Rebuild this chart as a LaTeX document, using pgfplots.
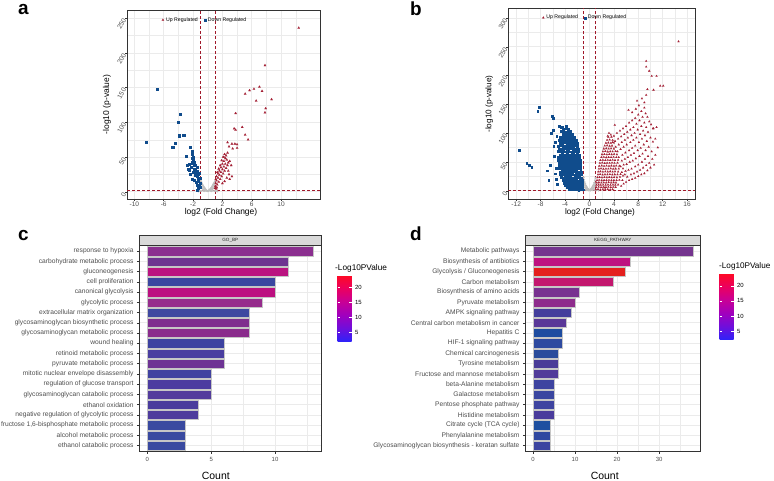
\documentclass[border=0pt]{standalone}
\usepackage{fontspec}
\setmainfont{Liberation Sans}
\usepackage{pgfplots}
\pgfplotsset{compat=1.18}
\definecolor{gridc}{HTML}{EBEBEB}
\definecolor{upred}{HTML}{A31F34}
\definecolor{dnblue}{HTML}{104C8C}
\definecolor{grayp}{HTML}{BEBEBE}
\definecolor{dashred}{HTML}{A0182A}
\definecolor{axc}{HTML}{333333}
\definecolor{tkc}{HTML}{4D4D4D}
% GO_BP bar colours, bottom (1) to top (20)
\definecolor{ca1}{HTML}{3A4AA0}\definecolor{ca2}{HTML}{3A4AA0}\definecolor{ca3}{HTML}{3A4AA0}
\definecolor{ca4}{HTML}{4E3C9C}\definecolor{ca5}{HTML}{4A3C9C}\definecolor{ca6}{HTML}{533C9C}
\definecolor{ca7}{HTML}{4C3CA0}\definecolor{ca8}{HTML}{4042A0}\definecolor{ca9}{HTML}{6E3494}
\definecolor{ca10}{HTML}{4A3EA0}\definecolor{ca11}{HTML}{3D42A0}\definecolor{ca12}{HTML}{8A2C8C}
\definecolor{ca13}{HTML}{7F2E8E}\definecolor{ca14}{HTML}{3E48A0}\definecolor{ca15}{HTML}{962C8C}
\definecolor{ca16}{HTML}{BC1080}\definecolor{ca17}{HTML}{3A46A0}\definecolor{ca18}{HTML}{BA1480}
\definecolor{ca19}{HTML}{6E3490}\definecolor{ca20}{HTML}{8B2F8F}
% KEGG bar colours, bottom (1) to top (20)
\definecolor{cb1}{HTML}{3C44A0}\definecolor{cb2}{HTML}{3048A0}\definecolor{cb3}{HTML}{1E50A0}
\definecolor{cb4}{HTML}{4A3C9C}\definecolor{cb5}{HTML}{3E44A0}\definecolor{cb6}{HTML}{3A46A0}
\definecolor{cb7}{HTML}{3E44A0}\definecolor{cb8}{HTML}{523C9A}\definecolor{cb9}{HTML}{4A3C98}
\definecolor{cb10}{HTML}{2A4C9C}\definecolor{cb11}{HTML}{2E4AA0}\definecolor{cb12}{HTML}{1E4CA0}
\definecolor{cb13}{HTML}{5A3898}\definecolor{cb14}{HTML}{443E9C}\definecolor{cb15}{HTML}{8E2C8C}
\definecolor{cb16}{HTML}{783290}\definecolor{cb17}{HTML}{C3176E}\definecolor{cb18}{HTML}{E4201E}
\definecolor{cb19}{HTML}{BE1280}\definecolor{cb20}{HTML}{74348E}
\pgfplotsset{
  colormap={gg}{rgb255=(45,35,250) rgb255=(110,15,220) rgb255=(160,0,190) rgb255=(200,0,150) rgb255=(235,0,95) rgb255=(255,10,35)},
  volc/.style={scale only axis, anchor=south west,
    grid=both,
    major grid style={draw=gridc, line width=0.6bp},
    minor grid style={draw=gridc, line width=0.3bp},
    axis line style={draw=axc, line width=0.6bp},
    tick align=outside, major tick length=2bp, minor tick length=0pt,
    tick style={draw=axc, line width=0.4bp},
    xtick pos=bottom, ytick pos=left,
    xticklabel style={font=\fontsize{6.6}{7}\selectfont, text=tkc, inner sep=0.8bp},
    yticklabel style={font=\fontsize{6.6}{7}\selectfont, text=tkc, rotate=60, anchor=east, inner sep=1bp},
    /pgf/number format/assume math mode=true,
    legend style={draw=none, fill=none, font=\fontsize{5.2}{6}\selectfont, legend columns=2, anchor=center, inner sep=0pt,
      /tikz/every even column/.append style={column sep=4bp}},
    legend cell align=left,
  },
  upst/.style={only marks, mark=triangle*, mark size=1.4bp, color=upred, mark options={fill=upred, draw=upred, line width=0.05bp}},
  dnst/.style={only marks, mark=square*, mark size=1.05bp, color=dnblue, mark options={fill=dnblue, draw=dnblue, line width=0.05bp}},
  upsb/.style={upst, mark size=1.2bp},
  dnsb/.style={dnst, mark size=0.9bp},
  grst/.style={only marks, mark=*, mark size=1.0bp, color=grayp, mark options={fill=grayp, draw=grayp, line width=0.1bp}},
  dashl/.style={dashred, line width=0.8bp, dash pattern=on 3bp off 2bp},
  barax/.style={scale only axis, anchor=south west,
    ymin=0.4, ymax=20.6, ytick={1,...,20},
    xmajorgrids, ymajorgrids, xminorgrids,
    major grid style={draw=gridc, line width=0.6bp},
    minor grid style={draw=gridc, line width=0.3bp},
    axis line style={draw=axc, line width=0.6bp},
    tick align=outside, major tick length=2bp, minor tick length=0pt,
    tick style={draw=axc, line width=0.4bp},
    xtick pos=bottom, ytick pos=left,
    yticklabel style={font=\fontsize{6.7}{7}\selectfont, text=tkc},
    xticklabel style={font=\fontsize{6}{7}\selectfont, text=tkc},
    /pgf/number format/assume math mode=true,
    colorbar, colormap name=gg, point meta min=2, point meta max=24.2,
  },
  cbst/.style={scale only axis, width=14bp, height=66.7bp,
    ytick={5,10,15,20}, yticklabels={5,10,15,20},
    ytick pos=both, yticklabel pos=right,
    tick align=inside, major tick length=2.8bp,
    tick style={draw=white, line width=0.5bp},
    axis line style={draw=none},
    yticklabel style={font=\fontsize{6}{7}\selectfont, text=black},
    /pgf/number format/assume math mode=true,
  },
  mybar/.style={xbar, bar width=0.9, bar shift=0pt, draw=gray!45, line width=0.3bp},
}
\begin{document}
\begin{tikzpicture}
\path[use as bounding box] (0,0) rectangle (774bp,481bp);

% ---------------- panel a ----------------
\begin{axis}[volc, at={(127bp,282bp)}, width=193bp, height=189bp,
  xmin=-11.0, xmax=15.3, ymin=-10.5, ymax=261.8,
  xtick={-10,-6,-2,2,6,10}, minor xtick={-8,-4,0,4,8,12},
  ytick={0,50,100,150,200,250}, minor ytick={25,75,125,175,225},
  legend style={at={(rel axis cs:0.404,0.947)}}]
\addplot[grst, forget plot] coordinates {(0,0.8)(0.08,1.2)(-0.08,1.1)(0.15,1.8)(-0.15,1.7)(0.22,2.4)(-0.22,2.6)(0.3,3.2)(-0.3,3.4)(0.38,4.1)(-0.38,4.4)(0.45,5.0)(-0.45,5.5)(0.52,6.1)(-0.52,6.7)(0.6,7.3)(-0.6,8.0)(0.68,8.6)(-0.68,9.4)(0.75,10)(-0.75,11)(0.82,11.5)(-0.82,12.5)(0.9,13)(-0.9,14.5)(0.97,15)(-0.97,16.5)(0.35,1.5)(-0.35,1.6)(0.55,2.8)(-0.55,3)(0.7,4.5)(-0.7,5)(0.85,6.5)(-0.85,7)(0.95,9)(-0.95,10)(0.65,2)(-0.65,2.2)(1.1,1.0)(-1.1,1.0)(1.3,0.6)(-1.3,0.5)(0.9,1.2)(-0.9,1.1)(0.5,0.9)(-0.5,0.8)};
\addplot[upst] coordinates {(12.4,236)(7.8,182)(5.1,141)(5.7,146)(6.3,148)(7.05,151)(7.4,145)(6.6,131)(8.7,133)(7.9,120)(7.8,114)(3.8,113)(3.6,91)(3.8,89)(4.7,93)(5.1,82)(5.5,75)(2.7,71)(3.3,69)(3.7,69)(4.0,68)(2.9,65)(3.4,62)(4.0,63)(2.3,54)(2.2,50)(1.05,8)(1.1,12)(1.2,16)(1.3,10)(1.4,20)(1.5,14)(1.6,24)(1.7,18)(1.8,28)(1.9,22)(2.0,32)(2.1,26)(2.2,36)(2.3,30)(2.4,40)(2.5,34)(2.2,44)(2.6,46)(2.4,48)(2.7,38)(2.8,42)(2.5,52)(1.6,30)(1.8,35)(2.0,40)(1.4,26)(1.2,22)(1.3,28)(1.5,33)(1.1,18)(2.6,20)(3.0,18)(2.9,25)(3.2,38)(3.0,44)(1.9,45)(2.1,50)(1.7,38)(1.0,5)(1.15,4)(1.25,6)(2.3,15)(2.0,12)(3.3,22)(2.8,30)(2.7,56)};
\addlegendentry{Up Regulated}
\addplot[dnst] coordinates {(-6.9,148)(-8.4,71)(-3.8,112)(-4.0,100)(-3.9,81)(-3.3,82)(-4.8,64)(-4.45,70)(-2.45,65)(-3.0,51)(-2.2,59)(-2.1,55)(-1.95,50)(-1.86,43)(-2.1,42)(-2.7,33)(-2.5,31)(-1.7,31)(-1.6,29)(-1.36,25)(-1.9,17)(-1.27,19)(-1.6,14)(-1.13,10)(-1.27,5)(-2.2,48)(-2.0,46)(-1.8,38)(-1.5,35)(-1.4,30)(-1.2,27)(-1.5,22)(-1.1,20)(-1.3,15)(-1.05,12)(-1.7,24)(-2.3,36)(-2.6,40)(-2.0,28)(-1.9,33)(-1.1,7)(-1.5,9)(-2.4,25)(-2.8,38)(-2.2,18)(-1.4,3)};
\addlegendentry{Down Regulated}
\addplot[dashl, forget plot] coordinates {(-1,-10.5)(-1,261.8)};
\addplot[dashl, forget plot] coordinates {(1,-10.5)(1,261.8)};
\addplot[dashl, forget plot] coordinates {(-11,1.3)(15.3,1.3)};
\end{axis}

% ---------------- panel b ----------------
\begin{axis}[volc, at={(508.3bp,281.7bp)}, width=186.7bp, height=191bp,
  xmin=-13.3, xmax=17.3, ymin=-14.9, ymax=316.7,
  xtick={-12,-8,-4,0,4,8,12,16}, minor xtick={-10,-6,-2,2,6,10,14},
  ytick={0,50,100,150,200,250,300}, minor ytick={25,75,125,175,225,275},
  legend style={at={(rel axis cs:0.412,0.951)}}]
\addplot[grst, forget plot] coordinates {(0,1)(0.1,1.6)(-0.1,1.5)(0.2,2.5)(-0.2,2.7)(0.3,3.6)(-0.3,3.9)(0.4,5)(-0.4,5.3)(0.5,6.5)(-0.5,7)(0.6,8.5)(-0.6,9)(0.7,11)(-0.7,12)(0.8,14)(-0.8,15)(0.9,18)(-0.9,19)(0.97,22)(-0.97,23)(0.35,1.5)(-0.35,1.6)(0.55,3)(-0.55,3.2)(0.75,5)(-0.75,5.5)(0.9,8)(-0.9,8.5)(0.95,12)(-0.95,13)(0.65,2)(-0.65,2.2)(1.2,1)(-1.2,1)(1.5,0.6)(-1.5,0.6)(0.85,1.5)(-0.85,1.5)(0.45,1)(-0.45,1)(0.2,0.5)(-0.2,0.5)(0.6,5)(-0.6,5.5)(0.8,9)(-0.8,10)(1.05,0.8)(-1.05,0.8)};
\addplot[upsb] coordinates {
(1.05,2)(1.4,2.5)(1.8,1.8)(2.2,2.2)(2.6,2)(3.0,2.4)(3.4,1.9)(3.8,2.3)
(1.1,6)(1.5,6.5)(1.9,5.8)(2.3,6.2)(2.7,6)(3.1,6.4)(3.5,5.9)(3.9,6.3)(4.3,6)
(1.15,10)(1.5,10.5)(1.85,9.8)(2.25,10.2)(2.65,10)(3.05,10.4)(3.45,9.9)(3.85,10.3)(4.25,10)(4.7,10.4)
(1.2,14)(1.55,14.4)(1.95,13.8)(2.35,14.2)(2.75,14)(3.15,14.5)(3.55,13.9)(3.95,14.3)(4.35,14)
(1.25,18)(1.6,18.5)(2.0,17.8)(2.4,18.3)(2.8,18)(3.2,18.4)(3.6,17.9)(4.0,18.2)(4.45,18)(4.9,18.5)(5.4,18)
(1.3,23)(1.65,23.4)(2.05,22.8)(2.45,23.2)(2.85,23)(3.25,23.5)(3.65,22.9)(4.05,23.3)(4.5,23)
(1.4,28)(1.75,28.5)(2.15,27.8)(2.55,28.2)(2.95,28)(3.35,28.4)(3.75,27.9)(4.15,28.3)(4.6,28)(5.1,28.4)(5.8,28)
(1.45,33)(1.8,33.4)(2.2,32.8)(2.6,33.2)(3.0,33)(3.4,33.5)(3.8,32.9)(4.2,33.3)(4.7,33)
(1.55,38)(1.9,38.5)(2.3,37.8)(2.7,38.2)(3.1,38)(3.5,38.4)(3.9,37.9)(4.3,38.3)(4.8,38)(5.5,38.4)
(1.6,43)(2.0,43.4)(2.4,42.8)(2.8,43.2)(3.2,43)(3.6,43.5)(4.0,42.9)(4.4,43.3)(4.9,43)
(1.7,48)(2.1,48.5)(2.5,47.8)(2.9,48.2)(3.3,48)(3.7,48.4)(4.1,47.9)(4.6,48.3)
(1.8,53)(2.2,53.4)(2.6,52.8)(3.0,53.2)(3.4,53)(3.8,53.5)(4.2,52.9)(4.7,53.3)
(1.95,58)(2.35,58.5)(2.75,57.8)(3.15,58.2)(3.55,58)(3.95,58.4)(4.4,57.9)
(2.05,63)(2.45,63.4)(2.85,62.8)(3.25,63.2)(3.65,63)(4.05,63.5)(4.5,62.9)
(2.2,68)(2.6,68.5)(3.0,67.8)(3.4,68.2)(3.8,68)(4.3,68.4)
(2.35,73)(2.75,73.4)(3.15,72.8)(3.55,73.2)(4.0,73)
(2.5,78)(2.9,78.5)(3.3,77.8)(3.7,78.2)
(2.7,83)(3.1,83.4)(3.5,82.8)(4.0,83.2)
(2.9,88)(3.3,88.5)(3.8,87.8)
(3.1,93)(3.6,93.4)
(5.2,8)(5.6,12)(6.0,15)(6.5,18)(7.0,20)(7.5,22)(8.0,25)(8.5,28)(9.0,30)(9.5,35)(10.0,40)
(5.0,24)(5.5,26)(6.2,24)(6.8,28)(7.3,30)(7.8,33)(8.3,36)(8.8,40)(9.3,44)(9.8,48)(10.3,55)
(5.3,32)(5.9,34)(6.4,36)(6.9,38)(7.5,42)(8.0,45)(8.6,50)(9.1,55)(9.6,60)(10.2,68)
(5.1,42)(5.6,45)(6.1,46)(6.6,50)(7.1,52)(7.6,56)(8.2,60)(8.7,64)(9.2,70)(9.7,76)(10.4,85)
(5.3,52)(5.8,55)(6.3,58)(6.8,62)(7.3,65)(7.9,70)(8.4,74)(8.9,80)(9.4,86)(10.0,92)(10.5,108)
(4.8,58)(5.4,62)(5.9,66)(6.5,70)(7.0,74)(7.5,78)(8.1,84)(8.6,90)(9.1,96)(9.6,102)(10.1,115)
(4.6,68)(5.1,72)(5.6,76)(6.1,80)(6.7,84)(7.2,88)(7.7,92)(8.3,98)(8.8,104)(9.3,110)(9.8,120)
(4.3,76)(4.8,80)(5.3,84)(5.8,88)(6.3,92)(6.9,96)(7.4,100)(7.9,106)(8.5,112)(9.0,118)(9.5,128)
(4.2,86)(4.7,90)(5.2,94)(5.7,98)(6.2,102)(6.7,106)(7.2,110)(7.7,116)(8.2,122)(8.7,128)(9.2,134)
(3.5,97)(4.15,114)(3.0,95)(4.5,100)(5.0,104)(5.5,108)(6.0,112)(6.5,118)(7.0,122)(7.5,126)(8.0,132)(8.5,138)(9.0,144)
(6.4,140)(7.0,136)(7.6,142)(8.1,148)(7.8,156)(9.0,153)(8.6,160)(9.3,166)(9.5,176)(10.5,175)(11.6,182)(12.1,182)
(9.8,208)(10.2,199)(11.0,199)(9.3,225)(9.3,215)(14.6,259)(10.4,108)(11.0,110)(10.8,90)(11.2,75)(10.8,62)(3.8,84)(3.2,100)(4.0,95)(2.5,5)(10.6,45)};
\addlegendentry{Up Regulated}
\addplot[dnsb] coordinates {
(-1.1,2)(-1.4,2.5)(-1.8,1.8)(-2.1,2.2)(-2.5,2)(-2.9,2.4)(-3.3,1.9)
(-1.2,6)(-1.5,6.5)(-1.9,5.8)(-2.3,6.2)(-2.6,6)(-3.0,6.4)(-3.4,5.9)(-3.7,6.3)
(-1.15,10)(-1.45,10.5)(-1.75,9.8)(-2.15,10.2)(-2.45,10)(-2.85,10.4)(-3.2,9.9)(-3.6,10.3)(-4.0,10)
(-1.25,14)(-1.6,14.4)(-2.0,13.8)(-2.35,14.2)(-2.7,14)(-3.1,14.5)(-3.45,13.9)(-3.85,14.3)(-4.2,14)
(-1.2,18)(-1.5,18.5)(-1.85,17.8)(-2.2,18.3)(-2.55,18)(-2.95,18.4)(-3.3,17.9)(-3.7,18.2)(-4.1,18)(-4.4,18.5)
(-1.3,23)(-1.65,23.4)(-2.05,22.8)(-2.4,23.2)(-2.8,23)(-3.15,23.5)(-3.55,22.9)(-3.95,23.3)(-4.3,23)(-4.6,23.4)
(-1.35,28)(-1.7,28.5)(-2.1,27.8)(-2.45,28.2)(-2.85,28)(-3.25,28.4)(-3.6,27.9)(-4.0,28.3)(-4.4,28)(-4.8,28.4)
(-1.4,33)(-1.8,33.4)(-2.15,32.8)(-2.55,33.2)(-2.9,33)(-3.3,33.5)(-3.7,32.9)(-4.1,33.3)(-4.5,33)(-4.9,33.4)
(-1.45,38)(-1.8,38.5)(-2.2,37.8)(-2.6,38.2)(-3.0,38)(-3.35,38.4)(-3.75,37.9)(-4.15,38.3)(-4.55,38)(-4.95,38.4)
(-1.5,43)(-1.9,43.4)(-2.25,42.8)(-2.65,43.2)(-3.05,43)(-3.4,43.5)(-3.8,42.9)(-4.2,43.3)(-4.6,43)(-5.0,43.4)
(-1.55,48)(-1.95,48.5)(-2.3,47.8)(-2.7,48.2)(-3.1,48)(-3.5,48.4)(-3.9,47.9)(-4.3,48.3)(-4.7,48)(-5.05,48.4)
(-1.6,53)(-2.0,53.4)(-2.4,52.8)(-2.75,53.2)(-3.15,53)(-3.55,53.5)(-3.95,52.9)(-4.35,53.3)(-4.75,53)(-5.1,53.4)
(-1.7,58)(-2.05,58.5)(-2.45,57.8)(-2.85,58.2)(-3.2,58)(-3.6,58.4)(-4.0,57.9)(-4.4,58.3)(-4.8,58)(-5.15,58.4)
(-1.75,63)(-2.1,63.4)(-2.5,62.8)(-2.9,63.2)(-3.3,63)(-3.7,63.5)(-4.1,62.9)(-4.5,63.3)(-4.9,63)
(-1.85,68)(-2.2,68.5)(-2.6,67.8)(-3.0,68.2)(-3.35,68)(-3.75,68.4)(-4.15,67.9)(-4.55,68.3)(-4.95,68)(-5.2,68.4)
(-1.9,73)(-2.3,73.4)(-2.7,72.8)(-3.05,73.2)(-3.45,73)(-3.85,73.5)(-4.25,72.9)(-4.65,73.3)(-5.05,73)
(-2.0,78)(-2.4,78.5)(-2.75,77.8)(-3.15,78.2)(-3.55,78)(-3.95,78.4)(-4.35,77.9)(-4.75,78.3)(-5.15,78)
(-2.1,83)(-2.5,83.4)(-2.9,82.8)(-3.25,83.2)(-3.65,83)(-4.05,83.5)(-4.45,82.9)(-4.85,83.3)
(-2.25,88)(-2.6,88.5)(-3.0,87.8)(-3.4,88.2)(-3.8,88)(-4.2,88.4)(-4.6,87.9)(-5.0,88.3)
(-2.5,93)(-2.85,93.4)(-3.25,92.8)(-3.65,93.2)(-4.0,93)(-4.4,93.5)(-4.8,92.9)
(-2.8,98)(-3.2,98.5)(-3.6,97.8)(-4.0,98.2)(-4.4,98)
(-3.1,103)(-3.5,103.4)(-3.9,102.8)(-4.3,103.2)(-4.7,103)
(-3.5,108)(-3.9,108.5)(-4.3,107.8)
(-3.8,112)(-4.4,111.5)
(-8.2,145)(-8.5,138)(-6.2,129)(-6.0,126)(-11.6,70)(-10.3,48)(-9.9,44)(-9.5,41)(-6.0,105)(-6.4,45)(-6.7,19)(-5.6,30)(-5.0,112)(-4.7,110)(-6.3,100)(-5.8,60)(-6.9,35)(-5.5,40)(-5.9,78)(-5.4,95)(-5.6,85)(-5.5,20)(-5.3,12)};
\addlegendentry{Down Regulated}
\addplot[dashl, forget plot] coordinates {(-1,-14.9)(-1,316.7)};
\addplot[dashl, forget plot] coordinates {(1,-14.9)(1,316.7)};
\addplot[dashl, forget plot] coordinates {(-13.3,1.3)(17.3,1.3)};
\end{axis}

% ---------------- panel c ----------------
\begin{axis}[barax, at={(139bp,29.3bp)}, width=182.7bp, height=206.7bp,
  xmin=-0.65, xmax=13.65, xtick={0,5,10}, minor xtick={2.5,7.5,12.5},
  yticklabels={ethanol catabolic process, alcohol metabolic process, {fructose 1,6-bisphosphate metabolic process}, negative regulation of glycolytic process, ethanol oxidation, glycosaminoglycan catabolic process, regulation of glucose transport, mitotic nuclear envelope disassembly, pyruvate metabolic process, retinoid metabolic process, wound healing, glycosaminoglycan metabolic process, glycosaminoglycan biosynthetic process, extracellular matrix organization, glycolytic process, canonical glycolysis, cell proliferation, gluconeogenesis, carbohydrate metabolic process, response to hypoxia},
  colorbar style={cbst, at={(parent axis.north east)}, anchor=north west, xshift=7.3bp, yshift=-30bp}]
\addplot[mybar, fill=ca1] coordinates {(3,1)};
\addplot[mybar, fill=ca2] coordinates {(3,2)};
\addplot[mybar, fill=ca3] coordinates {(3,3)};
\addplot[mybar, fill=ca4] coordinates {(4,4)};
\addplot[mybar, fill=ca5] coordinates {(4,5)};
\addplot[mybar, fill=ca6] coordinates {(5,6)};
\addplot[mybar, fill=ca7] coordinates {(5,7)};
\addplot[mybar, fill=ca8] coordinates {(5,8)};
\addplot[mybar, fill=ca9] coordinates {(6,9)};
\addplot[mybar, fill=ca10] coordinates {(6,10)};
\addplot[mybar, fill=ca11] coordinates {(6,11)};
\addplot[mybar, fill=ca12] coordinates {(8,12)};
\addplot[mybar, fill=ca13] coordinates {(8,13)};
\addplot[mybar, fill=ca14] coordinates {(8,14)};
\addplot[mybar, fill=ca15] coordinates {(9,15)};
\addplot[mybar, fill=ca16] coordinates {(10,16)};
\addplot[mybar, fill=ca17] coordinates {(10,17)};
\addplot[mybar, fill=ca18] coordinates {(11,18)};
\addplot[mybar, fill=ca19] coordinates {(11,19)};
\addplot[mybar, fill=ca20] coordinates {(13,20)};
\end{axis}

% ---------------- panel d ----------------
\begin{axis}[barax, at={(525bp,29.3bp)}, width=175.7bp, height=206.7bp,
  xmin=-1.9, xmax=39.9, xtick={0,10,20,30}, minor xtick={5,15,25,35},
  yticklabels={Glycosaminoglycan biosynthesis - keratan sulfate, Phenylalanine metabolism, Citrate cycle (TCA cycle), Histidine metabolism, Pentose phosphate pathway, Galactose metabolism, beta-Alanine metabolism, Fructose and mannose metabolism, Tyrosine metabolism, Chemical carcinogenesis, HIF-1 signaling pathway, Hepatitis C, Central carbon metabolism in cancer, AMPK signaling pathway, Pyruvate metabolism, Biosynthesis of amino acids, Carbon metabolism, Glycolysis / Gluconeogenesis, Biosynthesis of antibiotics, Metabolic pathways},
  colorbar style={cbst, at={(parent axis.north east)}, anchor=north west, xshift=10.3bp, yshift=-28.3bp}]
\addplot[mybar, fill=cb1] coordinates {(4,1)};
\addplot[mybar, fill=cb2] coordinates {(4,2)};
\addplot[mybar, fill=cb3] coordinates {(4,3)};
\addplot[mybar, fill=cb4] coordinates {(5,4)};
\addplot[mybar, fill=cb5] coordinates {(5,5)};
\addplot[mybar, fill=cb6] coordinates {(5,6)};
\addplot[mybar, fill=cb7] coordinates {(5,7)};
\addplot[mybar, fill=cb8] coordinates {(6,8)};
\addplot[mybar, fill=cb9] coordinates {(6,9)};
\addplot[mybar, fill=cb10] coordinates {(6,10)};
\addplot[mybar, fill=cb11] coordinates {(7,11)};
\addplot[mybar, fill=cb12] coordinates {(7,12)};
\addplot[mybar, fill=cb13] coordinates {(8,13)};
\addplot[mybar, fill=cb14] coordinates {(9,14)};
\addplot[mybar, fill=cb15] coordinates {(10,15)};
\addplot[mybar, fill=cb16] coordinates {(11,16)};
\addplot[mybar, fill=cb17] coordinates {(19,17)};
\addplot[mybar, fill=cb18] coordinates {(22,18)};
\addplot[mybar, fill=cb19] coordinates {(23,19)};
\addplot[mybar, fill=cb20] coordinates {(38,20)};
\end{axis}

% strips
\draw[fill=black!15, draw=axc, line width=0.6bp] (139bp,236bp) rectangle (321.7bp,246bp);
\node[font=\fontsize{4.6}{5}\selectfont, text=black!85] at (230.3bp,241bp) {GO\_BP};
\draw[fill=black!15, draw=axc, line width=0.6bp] (525bp,236bp) rectangle (700.7bp,246bp);
\node[font=\fontsize{4.6}{5}\selectfont, text=black!85] at (612.8bp,241bp) {KEGG\_PATHWAY};

% axis titles
\node[font=\fontsize{8.5}{10}\selectfont, anchor=base, inner sep=0pt] at (221bp,266bp) {log2 (Fold Change)};
\node[font=\fontsize{8.5}{10}\selectfont, rotate=90] at (107bp,376.5bp) {-log10 (p-value)};
\node[font=\fontsize{8.2}{10}\selectfont, anchor=base, inner sep=0pt] at (600bp,266bp) {log2 (Fold Change)};
\node[font=\fontsize{8.2}{10}\selectfont, rotate=90] at (489.3bp,377bp) {-log10 (p-value)};
\node[font=\fontsize{10.5}{12}\selectfont, anchor=base, inner sep=0pt] at (215.8bp,1.3bp) {Count};
\node[font=\fontsize{10.5}{12}\selectfont, anchor=base, inner sep=0pt] at (604.7bp,1.3bp) {Count};
\node[font=\fontsize{8.3}{10}\selectfont, anchor=west, inner sep=0pt] at (335bp,213bp) {-Log10PValue};
\node[font=\fontsize{8.2}{10}\selectfont, anchor=west, inner sep=0pt] at (719bp,215bp) {-Log10PValue};

% panel letters
\node[font=\fontsize{19}{20}\bfseries\selectfont, anchor=base west, inner sep=0pt] at (18bp,466bp) {a};
\node[font=\fontsize{19}{20}\bfseries\selectfont, anchor=base west, inner sep=0pt] at (410bp,465bp) {b};
\node[font=\fontsize{19}{20}\bfseries\selectfont, anchor=base west, inner sep=0pt] at (18bp,240bp) {c};
\node[font=\fontsize{19}{20}\bfseries\selectfont, anchor=base west, inner sep=0pt] at (410bp,240bp) {d};
\end{tikzpicture}
\end{document}
